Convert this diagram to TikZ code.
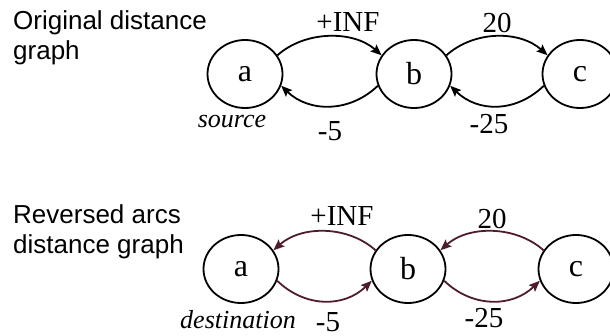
\documentclass[tikz,border=0pt]{standalone}
\usepackage{fontspec}
\setmainfont{Liberation Serif}
\newfontfamily\titlefont{Liberation Sans}
\usetikzlibrary{shapes.geometric,arrows.meta}
\definecolor{arcmaroon}{RGB}{78,28,42}
\begin{document}
\begin{tikzpicture}[x=1pt,y=1pt,
  vertex/.style={draw, ellipse, line width=1.8pt, minimum width=75pt,
    minimum height=68pt, inner sep=0pt, font=\fontsize{32}{32}\selectfont},
  edgearc/.style={line width=1.8pt, -{Stealth[length=11pt,width=9pt,inset=2pt]}},
  backarc/.style={edgearc, draw=arcmaroon},
  weight/.style={font=\fontsize{29}{29}\selectfont, inner sep=0pt},
  role/.style={font=\itshape\fontsize{26}{26}\selectfont, inner sep=0pt},
  title/.style={font=\titlefont\fontsize{26}{30}\selectfont, anchor=base west, inner sep=0pt}
]
\useasboundingbox (0,0) rectangle (610,335);

% ---- original distance graph ----
\node[title] (t1a) at (13,305) {Original distance};
\node[title] (t1b) at (13,275) {graph};

\node[vertex] (ta) at (245,261) {a};
\node[vertex] (tb) at (414,261) {b};
\node[vertex] (tc) at (580,261) {c};

\draw[edgearc] (ta.30) .. controls +(28,25) and +(-28,25) .. (tb.150);
\draw[edgearc] (tb.-162) .. controls +(-28,-27) and +(28,-27) .. (ta.-18);
\draw[edgearc] (tb.30) .. controls +(28,25) and +(-28,25) .. (tc.150);
\draw[edgearc] (tc.-162) .. controls +(-28,-27) and +(28,-27) .. (tb.-18);

\node[weight] (w1) at (348,313) {+INF};
\node[weight] (w2) at (497,312) {20};
\node[weight] (w3) at (330,204) {-5};
\node[weight] (w4) at (489,211) {-25};
\node[role] (src) at (232,213) {source};

% ---- reversed arcs distance graph ----
\node[title] (t2a) at (13,112) {Reversed arcs};
\node[title] (t2b) at (13,82) {distance graph};

\node[vertex] (ba) at (241,66) {a};
\node[vertex] (bb) at (408,66) {b};
\node[vertex] (bc) at (576,66) {c};

\draw[backarc] (bb.150) .. controls +(-28,25) and +(28,25) .. (ba.30);
\draw[backarc] (ba.-18) .. controls +(28,-27) and +(-28,-27) .. (bb.-162);
\draw[backarc] (bc.150) .. controls +(-28,25) and +(28,25) .. (bb.30);
\draw[backarc] (bb.-18) .. controls +(28,-27) and +(-28,-27) .. (bc.-162);

\node[weight] (v1) at (342,119) {+INF};
\node[weight] (v2) at (492,116) {20};
\node[weight] (v3) at (328,13) {-5};
\node[weight] (v4) at (484,17) {-25};
\node[role] (dst) at (238,15) {destination};
\end{tikzpicture}
\end{document}
